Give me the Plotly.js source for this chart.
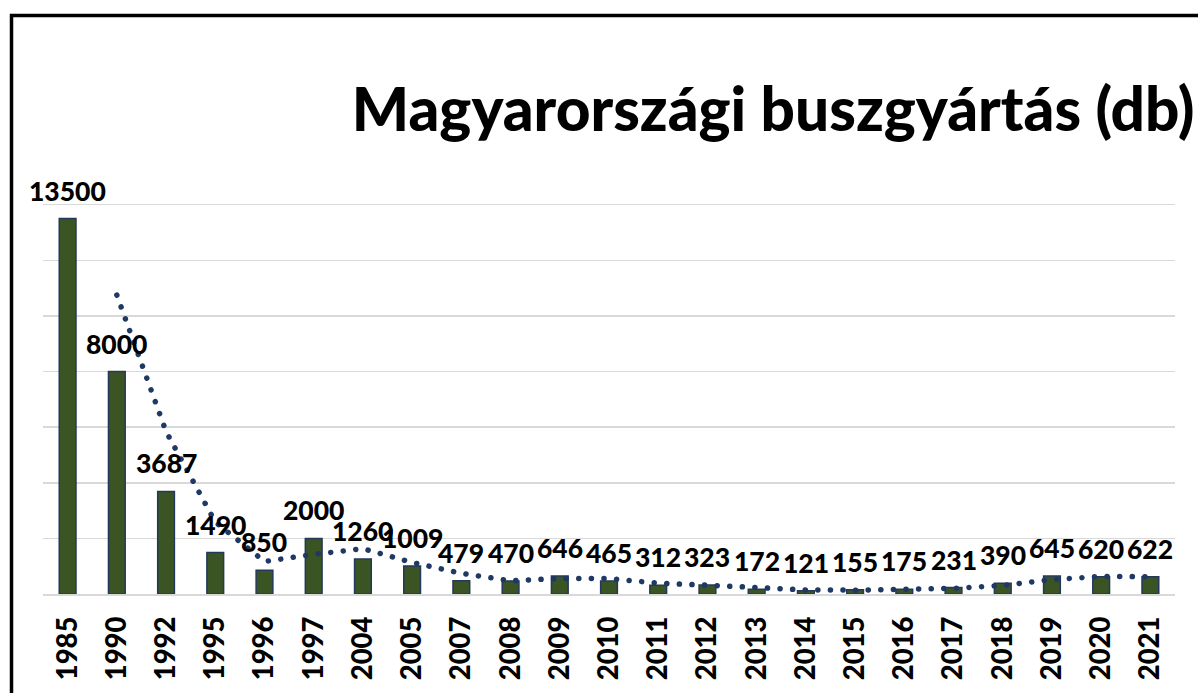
<!DOCTYPE html>
<html>
<head>
<meta charset="utf-8">
<script src="https://cdn.plot.ly/plotly-3.0.1.min.js"></script>
<style>
html,body{margin:0;padding:0;background:#fff;}
#chart{width:1198px;height:693px;}
.trend .js-line{stroke-linecap:round;}
</style>
</head>
<body>
<div id="chart"></div>
<script>
const years = ["1985","1990","1992","1995","1996","1997","2004","2005","2007","2008","2009","2010","2011","2012","2013","2014","2015","2016","2017","2018","2019","2020","2021"];
const production = [13500,8000,3687,1490,850,2000,1260,1009,479,470,646,465,312,323,172,121,155,175,231,390,645,620,622];
const titleText = "Magyarországi buszgyártás (db)";

// 2-period moving average trendline (as in the original spreadsheet chart)
const trendX = [], trendY = [];
for (let i = 1; i < production.length; i++) {
  trendX.push(years[i]);
  trendY.push((production[i] + production[i-1]) / 2);
}

const FONT = "Lato, 'Open Sans', sans-serif";

const bars = {
  type: "bar",
  x: years,
  y: production,
  marker: {color: "#3a5424", line: {color: "#24385e", width: 1.5}},
  hoverinfo: "x+y",
  showlegend: false
};

const trend = {
  type: "scatter",
  mode: "lines",
  x: trendX,
  y: trendY,
  line: {color: "#203864", width: 5.5, dash: "0.1px,12.5px"},
  showlegend: false,
  hoverinfo: "skip"
};

// annotations on a category axis: use the category index as x
const annotations = years.map((yr, i) => ({
  x: i, y: production[i], xref: "x", yref: "y",
  text: String(production[i]),
  showarrow: false,
  yanchor: "middle", xanchor: "center",
  yshift: 28,
  font: {family: FONT, size: 26.5, color: "#000", weight: 900}
}));

const layout = {
  width: 1198, height: 693,
  margin: {l: 43, r: 23, t: 149, b: 99, pad: 0},
  paper_bgcolor: "#ffffff",
  plot_bgcolor: "#ffffff",
  bargap: 0.66,
  title: {
    text: titleText,
    xref: "container", yref: "container",
    x: 0.997, xanchor: "right",
    y: 1 - 110/693, yanchor: "middle",
    font: {family: FONT, size: 60.3, color: "#000", weight: 900}
  },
  xaxis: {
    type: "category",
    categoryorder: "array", categoryarray: years,
    range: [-0.5, years.length - 0.5],
    tickangle: -90,
    showgrid: false,
    showline: true, linecolor: "#d9d9d9", linewidth: 1.5,
    ticks: "", ticklabelstandoff: 10,
    tickfont: {family: FONT, size: 27.5, color: "#000", weight: 900},
    fixedrange: true
  },
  yaxis: {
    range: [0, 16000],
    dtick: 2000,
    showticklabels: false,
    showgrid: true, gridcolor: "#d9d9d9", gridwidth: 1.5,
    zeroline: false, showline: false, ticks: "",
    fixedrange: true
  },
  annotations: annotations,
  shapes: [{
    type: "rect", xref: "paper", yref: "paper",
    x0: (11.5 - 43) / 1132, x1: 1.1,
    y0: -0.5, y1: (594 - 15.5) / 445,
    line: {color: "#000", width: 3.5},
    fillcolor: "rgba(0,0,0,0)",
    layer: "above"
  }]
};

Plotly.newPlot("chart", [bars, trend], layout, {displayModeBar: false, staticPlot: true}).then(() => {
  document.querySelectorAll(".scatterlayer .trace").forEach(t => t.classList.add("trend"));
});
</script>
</body>
</html>
